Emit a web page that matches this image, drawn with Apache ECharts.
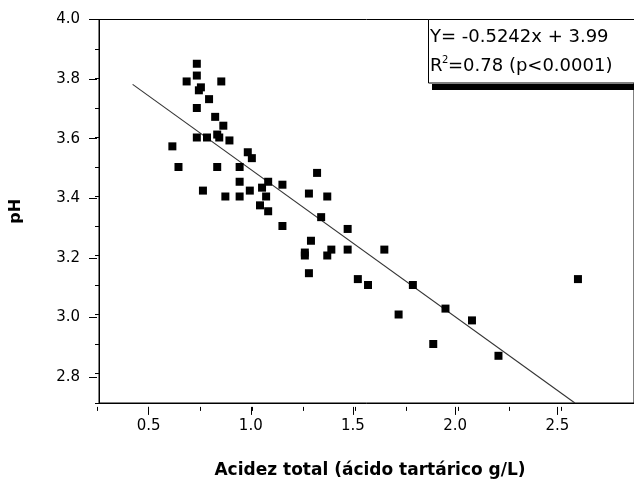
<!DOCTYPE html>
<html><head><meta charset="utf-8">
<script src="https://cdn.jsdelivr.net/npm/echarts@6/dist/echarts.min.js"></script>
<style>html,body{margin:0;padding:0;background:#fff}#c{width:634px;height:484px}</style>
</head><body><div id="c"></div>
<script>
// Data
const acidity = [0.73,0.68,0.73,0.85,0.75,0.74,0.79,0.73,0.82,0.86,0.73,0.78,0.83,0.84,0.89,0.61,0.64,0.83,0.94,0.98,1.00,1.32,0.94,0.76,0.99,1.05,1.08,1.15,1.28,1.37,0.87,0.94,1.07,1.04,1.08,1.15,1.34,1.47,1.29,1.26,1.26,1.37,1.39,1.47,1.28,1.52,1.57,1.65,1.79,1.72,1.95,2.08,1.89,2.21,2.60];
const ph       = [3.85,3.79,3.81,3.79,3.77,3.76,3.73,3.70,3.67,3.64,3.60,3.60,3.61,3.60,3.59,3.57,3.50,3.50,3.50,3.55,3.53,3.48,3.45,3.42,3.42,3.43,3.45,3.44,3.41,3.40,3.40,3.40,3.40,3.37,3.35,3.30,3.33,3.29,3.25,3.21,3.20,3.20,3.22,3.22,3.14,3.12,3.10,3.22,3.10,3.00,3.02,2.98,2.90,2.86,3.12];
const fitX = [0.415, 2.585];
const fitY = [3.78, 2.70];
const xRange = [0.25, 2.875];
const xMajorStart = 0.5, xMajor = 0.5, xMinor = 0.25, xMinorEnd = 2.5;
const yRange = [2.7, 4.0];
const yMajorStart = 2.8, yMajor = 0.2, yMinor = 0.1;
const xTitle = 'Acidez total (ácido tartárico g/L)';
const yTitle = 'pH';
const eqText = 'Y= -0.5242x + 3.99';
const r2Lead = 'R', r2Sup = '2', r2Text = '=0.78 (p<0.0001)';

// Layout
const pxX = 206.35, pxY = 298;
const left0 = 97, top0 = 19.5;
const w0 = (xRange[1] - xRange[0]) * pxX;
const h0 = (yRange[1] - yRange[0]) * pxY;
const left1 = left0 + (xMajorStart - xRange[0]) * pxX;
const h2 = (yRange[1] - yMajorStart) * pxY;
const w3 = (xMinorEnd - xRange[0]) * pxX;
const FONT = 'DejaVu Sans';

const chart = echarts.init(document.getElementById('c'), null, {renderer: 'canvas'});
const lbl = {color: '#000', fontFamily: FONT, fontSize: 15};
const hidden = {show: false};
chart.setOption({
  animation: false,
  backgroundColor: '#fff',
  grid: [
    {left: left0, top: top0, width: w0, height: h0, show: true, borderColor: '#000', borderWidth: 1, backgroundColor: 'transparent'},
    {left: left1, top: top0, width: w0 - (left1 - left0), height: h0},
    {left: left0, top: top0, width: w0, height: h2},
    {left: left0, top: top0, width: w3, height: h0}
  ],
  xAxis: [
    {gridIndex: 0, type: 'value', min: xRange[0], max: xRange[1],
     axisLine: {show: true, lineStyle: {color: '#000', width: 1}},
     axisTick: hidden, axisLabel: hidden, splitLine: hidden,
     name: xTitle, nameLocation: 'middle', nameGap: 59,
     nameTextStyle: {color: '#000', fontFamily: FONT, fontWeight: 'bold', fontSize: 17, padding: [0, 0, 0, 7]}},
    {gridIndex: 1, type: 'value', min: xMajorStart, max: xRange[1], interval: xMajor,
     axisLine: hidden, axisTick: {show: true, length: 8, lineStyle: {color: '#000'}},
     axisLabel: Object.assign({margin: 12, showMaxLabel: false, formatter: v => v.toFixed(1)}, lbl),
     splitLine: hidden},
    {gridIndex: 2, type: 'value', show: false, min: xRange[0], max: xRange[1]},
    {gridIndex: 3, type: 'value', min: xRange[0], max: xMinorEnd, interval: xMinor,
     axisLine: hidden, axisTick: {show: true, length: 4, lineStyle: {color: '#000'}},
     axisLabel: hidden, splitLine: hidden}
  ],
  yAxis: [
    {gridIndex: 0, type: 'value', min: yRange[0], max: yRange[1], interval: yMinor,
     axisLine: {show: true, lineStyle: {color: '#000', width: 1}},
     axisTick: {show: true, length: 4, lineStyle: {color: '#000'}},
     axisLabel: hidden, splitLine: hidden,
     name: yTitle, nameLocation: 'middle', nameGap: 75,
     nameTextStyle: {color: '#000', fontFamily: FONT, fontWeight: 'bold', fontSize: 16}},
    {gridIndex: 1, type: 'value', show: false, min: yRange[0], max: yRange[1]},
    {gridIndex: 2, type: 'value', min: yMajorStart, max: yRange[1], interval: yMajor,
     axisLine: hidden, axisTick: {show: true, length: 8, lineStyle: {color: '#000'}},
     axisLabel: Object.assign({margin: 17, formatter: v => v.toFixed(1)}, lbl),
     splitLine: hidden},
    {gridIndex: 3, type: 'value', show: false, min: yRange[0], max: yRange[1]}
  ],
  series: [
    {type: 'line', xAxisIndex: 0, yAxisIndex: 0, data: fitX.map((x, i) => [x, fitY[i]]),
     showSymbol: false, symbol: 'none', lineStyle: {color: '#333', width: 1.1}, z: 2},
    {type: 'scatter', xAxisIndex: 0, yAxisIndex: 0, data: acidity.map((x, i) => [x, ph[i]]),
     symbol: 'rect', symbolSize: 8, itemStyle: {color: '#000', opacity: 1}, z: 3}
  ],
  graphic: [
    {type: 'rect', z: 10, shape: {x: 432, y: 84, width: 220, height: 6}, style: {fill: '#000'}},
    {type: 'rect', z: 11, shape: {x: 428.5, y: 19.5, width: 220, height: 63.5}, style: {fill: '#fff', stroke: '#000', lineWidth: 1}},
    {type: 'text', z: 12, left: 430, top: 28, style: {text: eqText, fill: '#000', font: '18px "DejaVu Sans"'}},
    {type: 'text', z: 12, left: 430, top: 57, style: {text: r2Lead, fill: '#000', font: '18px "DejaVu Sans"'}},
    {type: 'text', z: 12, left: 442, top: 55, style: {text: r2Sup, fill: '#000', font: '10px "DejaVu Sans"'}},
    {type: 'text', z: 12, left: 448, top: 57, style: {text: r2Text, fill: '#000', font: '18px "DejaVu Sans"'}}
  ]
});
</script></body></html>
